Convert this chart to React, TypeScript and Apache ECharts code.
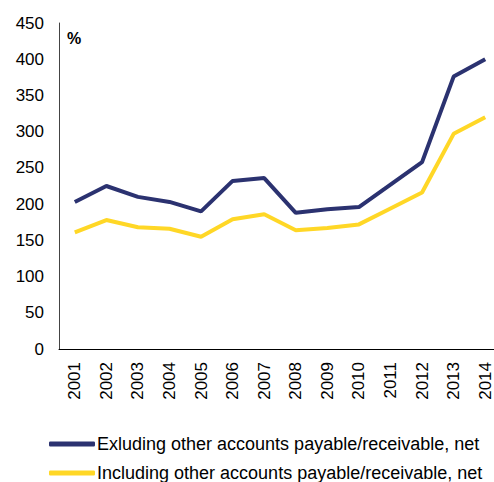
import React, { useEffect, useRef } from "react";
import * as echarts from "echarts";

const years = ["2001","2002","2003","2004","2005","2006","2007","2008","2009","2010","2011","2012","2013","2014"];
const excluding = [203, 225, 210, 203, 190, 232, 236, 188, 193, 196, 227, 258, 376, 400];
const including = [161, 178, 168, 166, 155, 179, 186, 164, 167, 172, 194, 216, 297, 320];
const seriesNames = [
  "Exluding other accounts payable/receivable, net",
  "Including other accounts payable/receivable, net",
];

export default function App() {
  const ref = useRef<HTMLDivElement>(null);
  useEffect(() => {
    const chart = echarts.init(ref.current!, null, { renderer: "svg" });
    const font = "Liberation Sans, Arial, sans-serif";
    const legendBase = {
      orient: "horizontal",
      left: 49,
      padding: 0,
      itemWidth: 46,
      itemHeight: 5,
      icon: "roundRect",
      textStyle: { fontSize: 18, lineHeight: 18, color: "#000", fontFamily: font, padding: [0, 0, 0, -3] },
    };
    chart.setOption({
      animation: false,
      textStyle: { fontFamily: font },
      grid: { left: 59, top: 23, bottom: 133, right: -7, containLabel: false, outerBoundsMode: "none" },
      legend: [
        { ...legendBase, top: 435, data: [seriesNames[0]] },
        { ...legendBase, top: 464, data: [seriesNames[1]] },
      ],
      graphic: [
        {
          type: "text",
          left: 67,
          top: 30,
          style: { text: "%", font: "bold 16px Liberation Sans, Arial, sans-serif", fill: "#000" },
        },
      ],
      xAxis: {
        type: "category",
        data: years,
        boundaryGap: true,
        axisLine: { lineStyle: { color: "#000", width: 1 } },
        axisTick: { show: false },
        axisLabel: { rotate: 90, fontSize: 17, color: "#000", margin: 13, interval: 0 },
      },
      yAxis: {
        type: "value",
        min: 0,
        max: 450,
        interval: 50,
        axisLine: { show: true, lineStyle: { color: "#444", width: 1 } },
        axisTick: { show: false },
        splitLine: { show: false },
        axisLabel: { fontSize: 17, color: "#000", margin: 15 },
      },
      series: [
        {
          name: seriesNames[0],
          type: "line",
          data: excluding,
          symbol: "none",
          lineStyle: { color: "#2b3270", width: 4 },
          itemStyle: { color: "#2b3270" },
        },
        {
          name: seriesNames[1],
          type: "line",
          data: including,
          symbol: "none",
          lineStyle: { color: "#ffd726", width: 4 },
          itemStyle: { color: "#ffd726" },
        },
      ],
    });
    return () => chart.dispose();
  }, []);
  return <div ref={ref} style={{ width: 494, height: 482, position: "absolute", left: 0, top: 0 }} />;
}
